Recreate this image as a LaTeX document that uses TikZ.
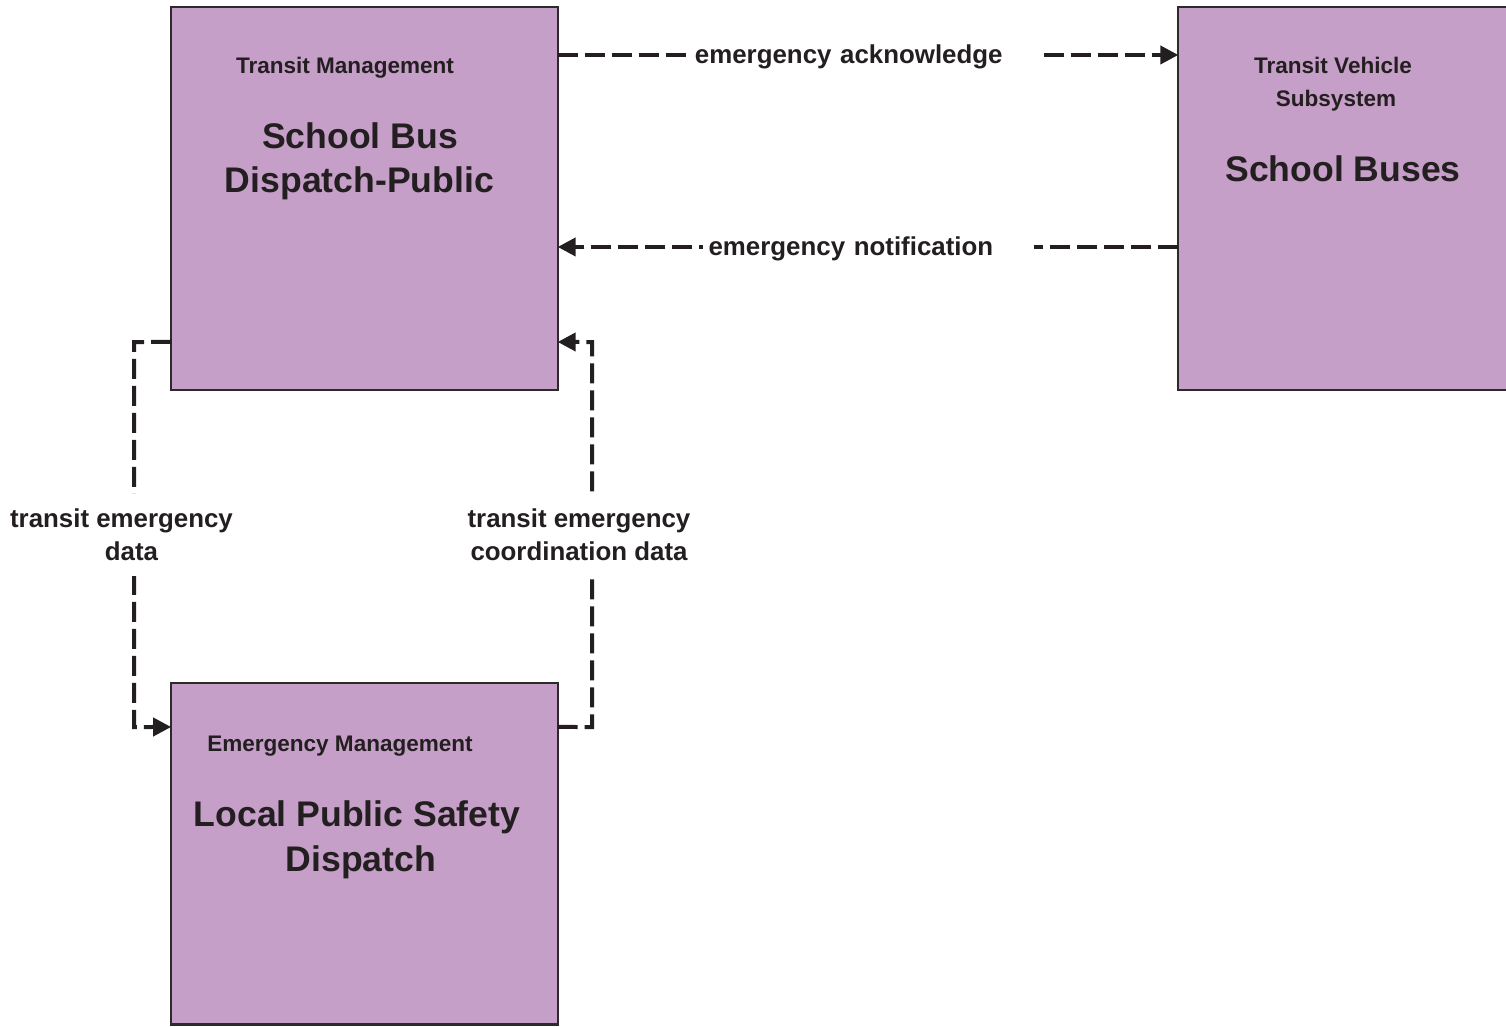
\documentclass[tikz,border=0pt]{standalone}
\usepackage{fontspec}
\setmainfont{Liberation Sans}
\usetikzlibrary{arrows.meta,calc}
\definecolor{boxfill}{HTML}{C69FC8}
\definecolor{ink}{HTML}{231F20}
\definecolor{edge}{HTML}{2E2A2B}
\begin{document}
\begin{tikzpicture}[x=0.75pt,y=-0.75pt,
  box/.style={draw=edge, line width=1.6pt, fill=boxfill, inner sep=0pt, outer sep=0pt},
  small/.style={font=\fontsize{16.9}{24.75}\selectfont\bfseries, text=ink, anchor=base, inner sep=0pt},
  big/.style={font=\fontsize{26.7}{33}\selectfont\bfseries, text=ink, anchor=base, inner sep=0pt},
  flow/.style={draw=ink, line width=3pt, dash pattern=on 15pt off 5.25pt,
    -{Triangle[length=13.5pt,width=13.5pt]}},
  hlabel/.style={font=\fontsize{19.4}{24.75}\selectfont\bfseries, text=ink, fill=white,
    anchor=west, align=left, inner ysep=1pt, yshift=-1.5pt},
  vlabel/.style={font=\fontsize{19.4}{24.75}\selectfont\bfseries, text=ink, fill=white,
    align=center, inner xsep=3pt, minimum height=61.5pt}
]
\useasboundingbox (0,0) rectangle (1506,1026);
\clip (0,0) rectangle (1506,1026);

% boxes
\node[box, minimum width=289.9pt, minimum height=287.3pt] (A) at (364.4,198.5) {};
\node[box, minimum width=256.3pt, minimum height=287.3pt] (B) at (1349.2,198.5) {};
\node[box, minimum width=289.9pt, minimum height=256.1pt] (C) at (364.4,853.7) {};

% box texts
\node[small] (A1) at (345,73) {Transit Management};
\node[big]   (A2) at (360,148) {School Bus};
\node[big]   (A3) at (359.5,192) {Dispatch-Public};

\node[small] (B1) at (1333,73) {Transit Vehicle};
\node[small] (B2) at (1336,106) {Subsystem};
\node[big]   (B3) at (1343,181) {School Buses};

\node[small] (C1) at (340,751) {Emergency Management};
\node[big]   (C2) at (357,826) {Local Public Safety};
\node[big]   (C3) at (361,871) {Dispatch};

% connectors
\coordinate (ackA) at ($(A.north east)+(0,48)$);
\coordinate (ackB) at ($(B.north west)+(0,48)$);
\draw[flow] (ackA) -- (ackB);
\node[hlabel, text width=260pt, inner xsep=2pt] (L1) at (692,55) {emergency acknowledge};

\coordinate (notB) at ($(B.north west)+(0,240)$);
\coordinate (notA) at ($(A.north east)+(0,240)$);
\draw[flow] (notB) -- (notA);
\node[hlabel, text width=240pt, inner xsep=4pt] (L2) at (703,247) {emergency notification};

\coordinate (tedA) at ($(A.north west)+(0,335)$);
\coordinate (tedC) at ($(C.north west)+(0,44)$);
\coordinate (tedK1) at (134,342);
\coordinate (tedK2) at (134,727);
\draw[flow] (tedA) -- (tedK1) -- (tedK2) -- (tedC);
\node[vlabel] (L3) at (121.5,535) {transit emergency\\\hspace*{15pt}data};

\coordinate (tecC) at ($(C.north east)+(0,44)$);
\coordinate (tecA) at ($(A.north east)+(0,335)$);
\coordinate (tecK1) at (592,727);
\coordinate (tecK2) at (592,342);
\draw[flow] (tecC) -- (tecK1) -- (tecK2) -- (tecA);
\node[vlabel] (L4) at (579,535) {transit emergency\\coordination data};
\end{tikzpicture}
\end{document}
